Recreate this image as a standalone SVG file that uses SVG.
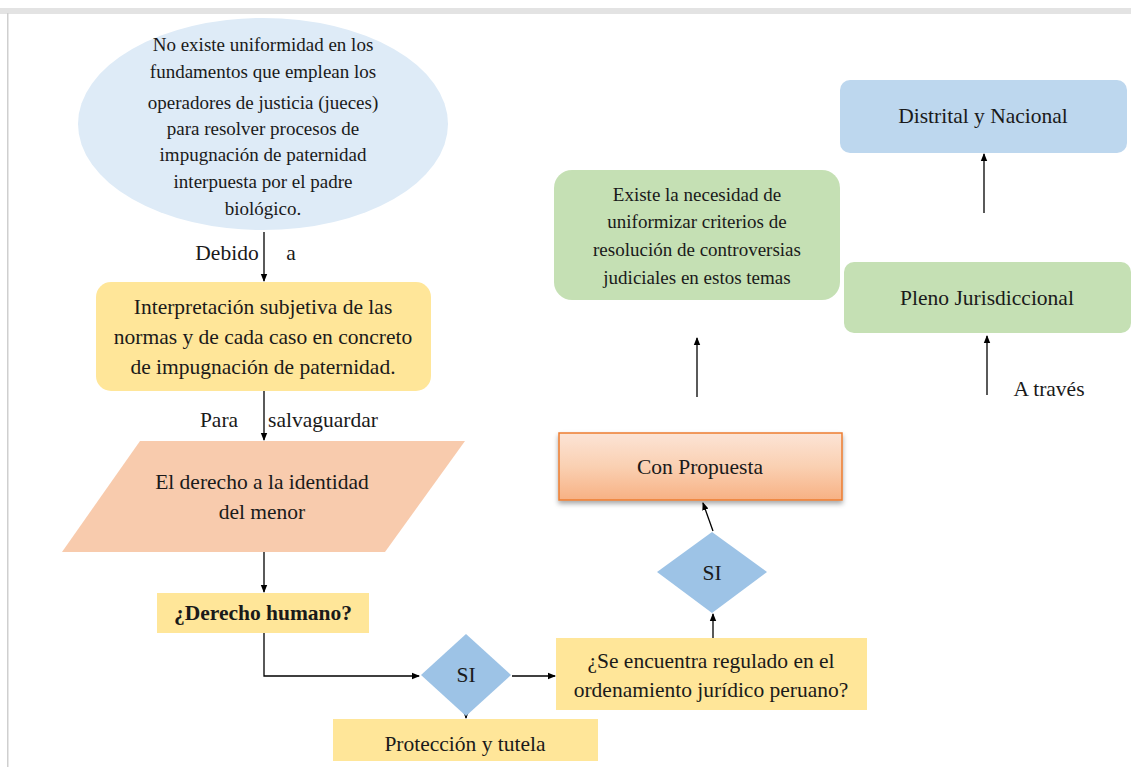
<svg xmlns="http://www.w3.org/2000/svg" width="1131" height="767" viewBox="0 0 1131 767" font-family="'Liberation Serif', 'DejaVu Serif', serif">
<style>
text{font-family:'Liberation Serif','DejaVu Serif',serif;fill:#1a1a1a;text-anchor:middle}
.t17{font-size:19px}
.t19{font-size:21.5px}
.t16{font-size:19px}
.con{stroke:#000;stroke-width:1.3;fill:none}
</style>
<defs>
<marker id="ah" markerWidth="8" markerHeight="8" refX="7" refY="4" orient="auto" markerUnits="userSpaceOnUse"><path d="M0,0.8 L8,4 L0,7.2 Z" fill="#000"/></marker>
<linearGradient id="og" x1="0" y1="0" x2="0" y2="1"><stop offset="0" stop-color="#FCE4D6"/><stop offset="0.5" stop-color="#FAD0B2"/><stop offset="1" stop-color="#F7B184"/></linearGradient>
<filter id="sh" x="-10%" y="-10%" width="120%" height="140%"><feDropShadow dx="0" dy="3" stdDeviation="2.5" flood-color="#000" flood-opacity="0.35"/></filter>
</defs>
<rect x="0" y="0" width="1131" height="767" fill="#fff"/>
<rect x="0" y="8" width="1131" height="6" fill="#e3e3e3"/>
<rect x="7" y="13" width="1.5" height="754" fill="#cfcfcf"/>

<g id="connectors">
<line class="con" x1="264" y1="232" x2="264" y2="281" marker-end="url(#ah)"/>
<line class="con" x1="264" y1="391" x2="264" y2="440" marker-end="url(#ah)"/>
<line class="con" x1="264" y1="552" x2="264" y2="592" marker-end="url(#ah)"/>
<polyline class="con" points="264,633 264,676 419,676" marker-end="url(#ah)"/>
<line class="con" x1="512" y1="676" x2="555" y2="676" marker-end="url(#ah)"/>
<line class="con" x1="466" y1="712" x2="466" y2="718" marker-end="url(#ah)"/>
<line class="con" x1="713" y1="638" x2="713" y2="614" marker-end="url(#ah)"/>
<line class="con" x1="713" y1="531" x2="703" y2="503" marker-end="url(#ah)"/>
<line class="con" x1="697" y1="397" x2="697" y2="338" marker-end="url(#ah)"/>
<line class="con" x1="987" y1="395" x2="987" y2="336" marker-end="url(#ah)"/>
<line class="con" x1="984" y1="213" x2="984" y2="154" marker-end="url(#ah)"/>
</g>

<g id="labels">
<text class="t19" x="227" y="260">Debido</text>
<text class="t19" x="291" y="260">a</text>
<text class="t19" x="219" y="427">Para</text>
<text class="t19" x="323" y="427">salvaguardar</text>
<text class="t19" x="1049" y="396">A través</text>
</g>

<g id="n-problema">
<ellipse cx="263" cy="124" rx="185" ry="106" fill="#DEEBF7"/>
<text class="t17" x="263" y="51">No existe uniformidad en los</text>
<text class="t17" x="263" y="78">fundamentos que emplean los</text>
<text class="t17" x="263" y="109">operadores de justicia (jueces)</text>
<text class="t17" x="263" y="135">para resolver procesos de</text>
<text class="t17" x="263" y="161">impugnación de paternidad</text>
<text class="t17" x="263" y="188">interpuesta por el padre</text>
<text class="t17" x="263" y="215">biológico.</text>
</g>

<g id="n-interpretacion">
<rect x="96" y="282" width="335" height="109" rx="15" fill="#FFE699"/>
<text class="t19" x="263" y="314">Interpretación subjetiva de las</text>
<text class="t19" x="263" y="344">normas y de cada caso en concreto</text>
<text class="t19" x="263" y="374">de impugnación de paternidad.</text>
</g>

<g id="n-derecho">
<polygon points="140,441 465,441 385,552 62,552" fill="#F8CBAD"/>
<text class="t19" x="262" y="489">El derecho a la identidad</text>
<text class="t19" x="262" y="519">del menor</text>
</g>

<g id="n-humano">
<rect x="157" y="593" width="212" height="40" fill="#FFE699"/>
<text class="t19" x="263" y="620" font-weight="bold">¿Derecho humano?</text>
</g>

<g id="n-si1">
<polygon points="466,634 511,675 466,716 421,675" fill="#9DC3E6"/>
<text class="t19" x="466" y="682">SI</text>
</g>

<g id="n-proteccion">
<rect x="333" y="719" width="265" height="42" fill="#FFE699"/>
<text class="t19" x="465" y="751">Protección y tutela</text>
</g>

<g id="n-regulado">
<rect x="556" y="638" width="311" height="72" fill="#FFE699"/>
<text class="t19" x="711" y="668">¿Se encuentra regulado en el</text>
<text class="t19" x="711" y="697">ordenamiento jurídico peruano?</text>
</g>

<g id="n-si2">
<polygon points="712,532 767,572 712,613 657,572" fill="#9DC3E6"/>
<text class="t19" x="712" y="580">SI</text>
</g>

<g id="n-propuesta">
<rect x="559" y="433" width="283" height="67" fill="url(#og)" stroke="#ED7D31" stroke-width="1.5" filter="url(#sh)"/>
<text class="t19" x="700" y="474">Con Propuesta</text>
</g>

<g id="n-necesidad">
<rect x="554" y="170" width="286" height="130" rx="18" fill="#C5E0B4"/>
<text class="t16" x="697" y="201">Existe la necesidad de</text>
<text class="t16" x="697" y="228">uniformizar criterios de</text>
<text class="t16" x="697" y="256">resolución de controversias</text>
<text class="t16" x="697" y="284">judiciales en estos temas</text>
</g>

<g id="n-pleno">
<rect x="844" y="262" width="287" height="71" rx="10" fill="#C5E0B4"/>
<text class="t19" x="987" y="305">Pleno Jurisdiccional</text>
</g>

<g id="n-distrital">
<rect x="840" y="80" width="287" height="73" rx="10" fill="#BDD7EE"/>
<text class="t19" x="983" y="123">Distrital y Nacional</text>
</g>
</svg>
